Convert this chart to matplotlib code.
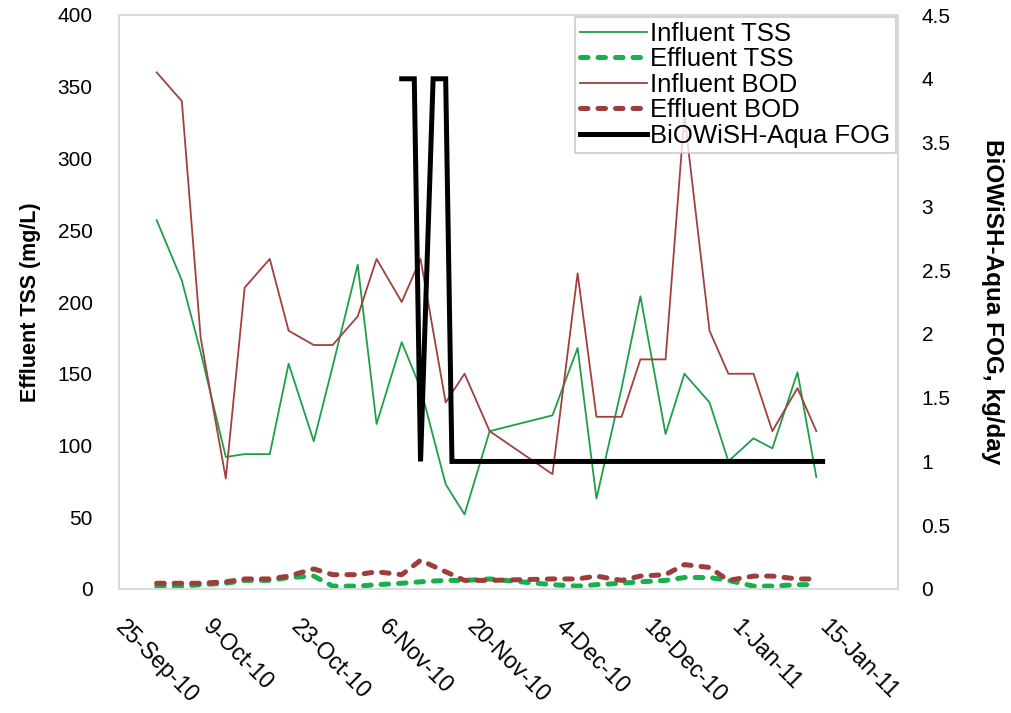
import datetime as dt
import matplotlib
matplotlib.use("Agg")
import matplotlib.pyplot as plt

plt.rcParams['font.family'] = ['Liberation Sans', 'DejaVu Sans']

# sampling dates (twice a week)
sample_dates = ['2010-10-01', '2010-10-05', '2010-10-08', '2010-10-12', '2010-10-15',
                '2010-10-19', '2010-10-22', '2010-10-26', '2010-10-29', '2010-11-02',
                '2010-11-05', '2010-11-09', '2010-11-12', '2010-11-16', '2010-11-19',
                '2010-11-23', '2010-12-03', '2010-12-07', '2010-12-10', '2010-12-14',
                '2010-12-17', '2010-12-21', '2010-12-24', '2010-12-28', '2010-12-31',
                '2011-01-04', '2011-01-07', '2011-01-11', '2011-01-14']

influent_tss = [257, 215, 165, 92, 94, 94, 157, 103, 155, 226,
                115, 172, 140, 73, 52, 110, 121, 168, 63, 140,
                204, 108, 150, 130, 89, 105, 98, 151, 78]
effluent_tss = [2, 2, 3, 4, 6, 6, 8, 9, 2, 2,
                3, 4, 5, 6, 6, 7, 3, 2, 3, 4,
                5, 6, 8, 8, 6, 2, 2, 3, 3]
influent_bod = [360, 340, 175, 77, 210, 230, 180, 170, 170, 190,
                230, 200, 230, 130, 150, 110, 80, 220, 120, 120,
                160, 160, 330, 180, 150, 150, 110, 140, 110]
effluent_bod = [4, 4, 4, 5, 7, 7, 9, 14, 10, 10,
                12, 10, 20, 12, 6, 6, 7, 7, 9, 6,
                9, 10, 17, 15, 6, 9, 9, 7, 7]

# BiOWiSH-Aqua FOG dosing (kg/day)
fog_dates = ['2010-11-09', '2010-11-11', '2010-11-12', '2010-11-14',
             '2010-11-16', '2010-11-17', '2011-01-15']
fog_dose = [4, 4, 1, 4, 4, 1, 1]


def to_date(s):
    return dt.datetime.strptime(s, '%Y-%m-%d')


x = [to_date(s) for s in sample_dates]
xf = [to_date(s) for s in fog_dates]

green = '#1f9e4a'
green_d = '#16b04f'
brown = '#a0413f'
brown_d = '#9c3f3c'

fig = plt.figure(figsize=(10.12, 7.13), dpi=100)
ax = fig.add_axes([119 / 1012, 1 - 589 / 713, (898 - 119) / 1012, (589 - 15) / 713])
ax2 = ax.twinx()

dash = (0, (1.5, 2.0))
l1, = ax.plot(x, influent_tss, color=green, lw=1.3, label='Influent TSS')
l2, = ax.plot(x, effluent_tss, color=green_d, lw=3.6, ls=dash, dash_capstyle='round',
              label='Effluent TSS')
l3, = ax.plot(x, influent_bod, color=brown, lw=1.3, label='Influent BOD')
l4, = ax.plot(x, effluent_bod, color=brown_d, lw=3.6, ls=dash, dash_capstyle='round',
              label='Effluent BOD')
l5, = ax2.plot(xf, fog_dose, color='black', lw=3.6, solid_joinstyle='miter',
               label='BiOWiSH-Aqua FOG')

start = dt.datetime(2010, 9, 25)
ax.set_xlim(start, dt.datetime(2011, 1, 27))
ax.set_ylim(0, 400)
ax2.set_ylim(0, 4.5)

ticks = [start + dt.timedelta(days=14 * i) for i in range(9)]
ax.set_xticks(ticks)
ax.set_xticklabels([f"{d.day}-{d.strftime('%b-%y')}" for d in ticks],
                   rotation=-45, ha='left', va='center', rotation_mode='anchor')
ax.set_yticks(range(0, 401, 50))
ax2.set_yticks([i * 0.5 for i in range(10)])
ax2.set_yticklabels([f"{i * 0.5:g}" for i in range(10)])

ax.tick_params(axis='x', length=0, pad=25, labelsize=16.5)
ax.tick_params(axis='y', length=0, pad=19, labelsize=15)
ax2.tick_params(axis='y', length=0, pad=17, labelsize=15)

for a in (ax, ax2):
    for sp in a.spines.values():
        sp.set_color('#d9d9d9')
        sp.set_linewidth(1.2)

ax.set_ylabel('Effluent TSS (mg/L)', fontsize=15.5, fontweight='bold', labelpad=12)
ax2.set_ylabel('BiOWiSH-Aqua FOG, kg/day', fontsize=17.5, fontweight='bold',
               rotation=-90, labelpad=38)

leg = ax2.legend(handles=[l1, l2, l3, l4, l5], loc='upper right',
                 bbox_to_anchor=(0.997, 0.997), borderaxespad=0, fontsize=18.5,
                 frameon=True, fancybox=False, edgecolor='#bfbfbf',
                 handlelength=2.6, handletextpad=0.15, labelspacing=0.06,
                 borderpad=0.2)
leg.get_frame().set_linewidth(1.2)

fig.savefig('out.png', dpi=100)
